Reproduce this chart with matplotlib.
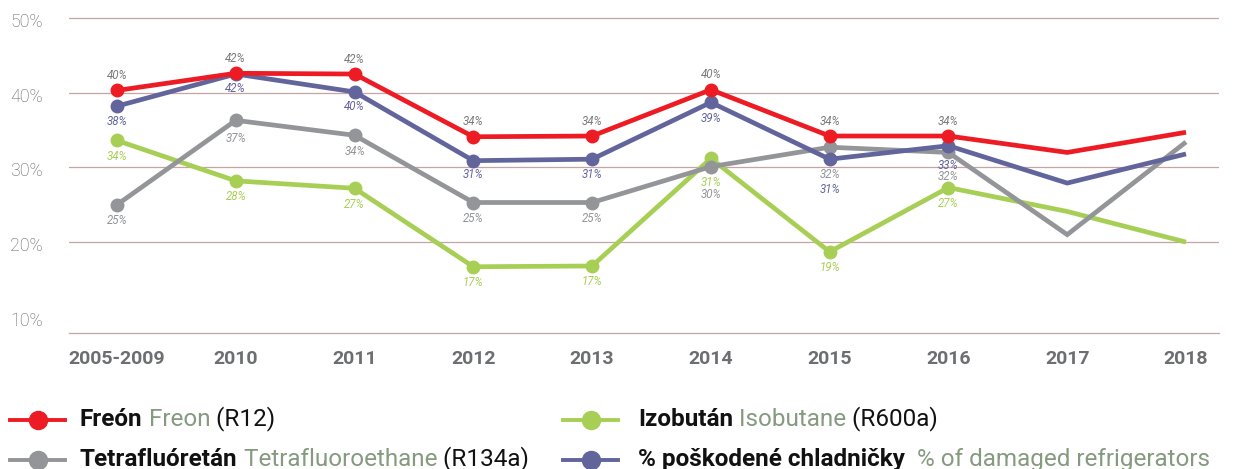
import matplotlib
matplotlib.use("Agg")
import matplotlib.pyplot as plt
from matplotlib.lines import Line2D
from matplotlib import transforms

plt.rcParams['font.family'] = ['Roboto', 'DejaVu Sans']

# ---------------- data ----------------
years = ["2005-2009", "2010", "2011", "2012", "2013", "2014", "2015", "2016", "2017", "2018"]
freon = [40.3, 42.6, 42.5, 34.1, 34.2, 40.4, 34.2, 34.2, 32.0, 34.7]
tetra = [25.0, 36.3, 34.3, 25.3, 25.3, 30.1, 32.7, 32.0, 21.0, 33.4]
izobutan = [33.6, 28.2, 27.2, 16.7, 16.8, 31.2, 18.7, 27.3, 24.1, 20.0]
damaged = [38.2, 42.5, 40.1, 30.9, 31.1, 38.7, 31.1, 32.9, 27.9, 31.8]

freon_labels = ["40%", "42%", "42%", "34%", "34%", "40%", "34%", "34%"]
tetra_labels = ["25%", "37%", "34%", "25%", "25%", "30%", "32%", "32%"]
izobutan_labels = ["34%", "28%", "27%", "17%", "17%", "31%", "19%", "27%"]
damaged_labels = ["38%", "42%", "40%", "31%", "31%", "39%", "31%", "33%"]

y_ticks = [10, 20, 30, 40, 50]
y_tick_labels = ["10%", "20%", "30%", "40%", "50%"]
grid_values = [20, 30, 40, 50]

legend_sk = ["Freón", "Tetrafluóretán", "Izobután", "% poškodené chladničky"]
legend_en = ["Freon", "Tetrafluoroethane", "Isobutane", " % of damaged refrigerators"]
legend_code = ["(R12)", "(R134a)", "(R600a)", ""]

# ---------------- style ----------------
RED = "#ed1c24"
GRAY = "#939598"
GREEN = "#a8cf55"
BLUE = "#62659c"
GRID = "#c9a3a3"
TICK = "#6d6e71"
EN = "#869a80"

W, H = 1239, 469
fig = plt.figure(figsize=(W / 100, H / 100), dpi=100)

left_px, right_px, top_px, bottom_px = 69, 1219, 10, 333
ax = fig.add_axes([left_px / W, 1 - bottom_px / H, (right_px - left_px) / W, (bottom_px - top_px) / H])

x = list(range(len(years)))
n_marked = len(freon_labels)

series = [
    (izobutan, GREEN, izobutan_labels, GREEN, -16, {5: -24, 12: -17}),
    (tetra, GRAY, tetra_labels, GRAY, -16, {1: -18, 5: -28, 6: -27, 7: -24}),
    (damaged, BLUE, damaged_labels, BLUE, -15, {1: -14, 3: -14, 5: -16, 6: -30, 7: -20}),
    (freon, RED, freon_labels, "#7a7a7a", 15, {}),
]

for z, (vals, col, labs, labcol, off, overrides) in enumerate(series):
    ax.plot(x, vals, color=col, lw=3.4, solid_capstyle='butt', solid_joinstyle='miter', zorder=3 + z)
    ax.plot(x[:n_marked], vals[:n_marked], ls='none', marker='o', ms=9, color=col, zorder=3 + z)
    for i, lab in enumerate(labs):
        dy = overrides.get(i, off)
        ax.annotate(lab, (x[i], vals[i]), xytext=(0, dy), textcoords='offset pixels',
                    ha='center', va='center', fontsize=8.3, style='italic', fontweight='normal',
                    color=labcol, zorder=10)

for g in grid_values:
    ax.axhline(g, color=GRID, lw=0.9, zorder=1)

ax.set_xlim(-0.404, 9.278)
ax.set_ylim(7.83, 51.07)
for s in ["top", "right", "left"]:
    ax.spines[s].set_visible(False)
ax.spines["bottom"].set_color(GRID)
ax.spines["bottom"].set_linewidth(0.9)
ax.set_yticks([])
ax.set_xticks(x)
ax.set_xticklabels(years, fontsize=14, fontweight='bold', color=TICK)
ax.tick_params(axis='x', length=0, pad=12)

ytr = transforms.offset_copy(ax.get_yaxis_transform(), fig=fig, x=-26, y=-4, units='dots')
for v, lab in zip(y_ticks, y_tick_labels):
    ax.text(0, v, lab, transform=ytr, ha='right', va='center', fontsize=12.8,
            fontweight='light', color="#5f6063", clip_on=False)

# ---------------- legend ----------------
leg_colors = [RED, GRAY, GREEN, BLUE]
leg_pos = [(10, 65, 80, 420), (10, 65, 80, 460), (563, 618, 638, 420), (563, 618, 638, 460)]
for i in range(4):
    x0, x1, tx, yy = leg_pos[i]
    fig.add_artist(Line2D([x0 / W, x1 / W], [1 - yy / H, 1 - yy / H], color=leg_colors[i], lw=2.8,
                          transform=fig.transFigure))
    fig.add_artist(Line2D([(x0 + x1) / 2 / W], [1 - yy / H], marker='o', ms=13, color=leg_colors[i],
                          transform=fig.transFigure))
    t1 = fig.text(tx / W, 1 - (yy + 6) / H, legend_sk[i], fontsize=17.5, fontweight='bold',
                  color="#111111", va='baseline', ha='left')
    t2 = ax.annotate(" " + legend_en[i], xy=(1, 0), xycoords=t1, va='bottom', ha='left',
                     fontsize=17.5, fontweight='normal', color=EN, annotation_clip=False)
    if legend_code[i]:
        ax.annotate(" " + legend_code[i], xy=(1, 0), xycoords=t2, va='bottom', ha='left',
                    fontsize=17.5, fontweight='normal', color="#111111", annotation_clip=False)

fig.savefig("out.png", dpi=100)
